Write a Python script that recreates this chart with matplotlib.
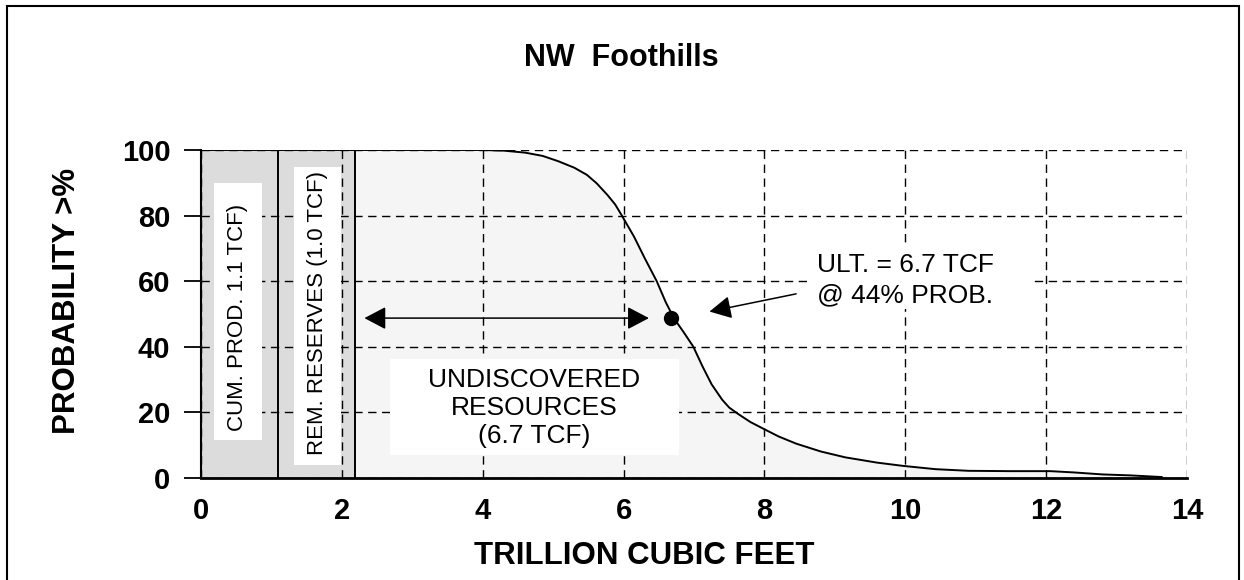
import matplotlib
matplotlib.use("Agg")
import matplotlib.pyplot as plt
from matplotlib.patches import Rectangle

# probability curve
x_tcf = [0.0, 2.18, 4.0, 4.3, 4.6, 4.85, 5.07, 5.3, 5.48, 5.62, 5.77, 5.88, 5.97,
         6.15, 6.3, 6.47, 6.6, 6.72, 6.85, 6.99, 7.12, 7.25, 7.4, 7.5, 7.63,
         7.8, 7.98, 8.2, 8.45, 8.8, 9.15, 9.6, 9.97, 10.43, 10.9, 11.5, 12.06,
         12.4, 12.8, 13.2, 13.64]
prob = [100, 100, 100, 99.8, 99.2, 98.2, 96.6, 94.6, 92.4, 89.8, 86.3, 83.4, 80.2,
        73.5, 67.0, 60.0, 53.5, 48.5, 44.5, 40.0, 34.0, 28.5, 23.8, 21.4, 19.4,
        17.0, 15.0, 12.6, 10.4, 8.0, 6.2, 4.6, 3.6, 2.6, 2.1, 2.0, 2.0,
        1.6, 1.0, 0.7, 0.2]

band_edges = [0, 1.1, 2.18]   # cum. production | remaining reserves
band_labels = ["CUM. PROD. 1.1 TCF)", "REM. RESERVES (1.0 TCF)"]
ult_x, ult_prob = 6.68, 48.7
undisc_span = (2.32, 6.36)

xticks = [0, 2, 4, 6, 8, 10, 12, 14]
yticks = [0, 20, 40, 60, 80, 100]

plt.rcParams['font.family'] = ['Liberation Sans', 'DejaVu Sans']

fig = plt.figure(figsize=(12.44, 5.8), dpi=100)
ax = fig.add_axes([201/1244, 1-477.7/580, 986/1244, 327.7/580])
ax.set_xlim(0, 14)
ax.set_ylim(0, 100)

# fills
ax.fill_between(x_tcf, prob, 0, color='#f5f5f5', zorder=1, lw=0)
ax.axvspan(band_edges[0], band_edges[2], color='#dcdcdc', zorder=1.5, lw=0)
for e in band_edges:
    ax.axvline(e, color='black', lw=1.4, zorder=3)

ax.grid(True, color='black', lw=1.0, ls=(0, (6, 4)), zorder=2)
ax.set_axisbelow(False)
for gl in ax.get_xgridlines() + ax.get_ygridlines():
    gl.set_zorder(2)

ax.plot(x_tcf, prob, color='black', lw=1.4, zorder=3)
ax.plot([ult_x], [ult_prob], 'o', color='black', ms=10, zorder=4)

# white label boxes
for (bx, by, bw, bh) in [(0.18, 11.5, 0.69, 78.4), (1.32, 3.9, 0.67, 91.0),
                         (2.68, 6.8, 4.1, 29.4), (8.6, 51.5, 3.2, 20.0)]:
    ax.add_patch(Rectangle((bx, by), bw, bh, facecolor='white', edgecolor='none', zorder=4))

ax.text(0.525, 48.9, band_labels[0], rotation=90, ha='center', va='center',
        fontsize=16, zorder=5)
ax.text(1.65, 50.4, band_labels[1], rotation=90, ha='center', va='center',
        fontsize=16, zorder=5)
ax.text(4.73, 21.3, "UNDISCOVERED\nRESOURCES\n(6.7 TCF)", ha='center', va='center',
        fontsize=19, zorder=5)
ax.text(10.0, 60.3, "ULT. = 6.7 TCF\n@ 44% PROB.", ha='center', va='center',
        fontsize=19, linespacing=1.3, zorder=5)

ax.annotate('', xy=(undisc_span[1], ult_prob), xytext=(undisc_span[0], ult_prob),
            arrowprops=dict(arrowstyle='<|-|>,head_length=0.95,head_width=0.5',
                            color='black', lw=1.1, mutation_scale=14,
                            shrinkA=0, shrinkB=0), zorder=5)
ax.annotate('', xy=(7.22, 50.7), xytext=(8.45, 56.1),
            arrowprops=dict(arrowstyle='-|>,head_length=0.95,head_width=0.5',
                            color='black', lw=1.1, mutation_scale=14,
                            shrinkA=0, shrinkB=0), zorder=5)

# axes styling
for s in ['top', 'right']:
    ax.spines[s].set_visible(False)
ax.spines['left'].set_linewidth(1.5)
ax.spines['bottom'].set_linewidth(2)
for s in ['left', 'bottom']:
    ax.spines[s].set_zorder(6)

ax.set_xticks(xticks)
ax.set_yticks(yticks)
ax.tick_params(axis='x', length=0, pad=14, labelsize=21)
ax.tick_params(axis='y', length=12, width=1.3, direction='out', pad=10, labelsize=21)
for lab in ax.get_xticklabels() + ax.get_yticklabels():
    lab.set_fontweight('bold')

ax.set_xlabel("TRILLION CUBIC FEET", fontsize=22.5, fontweight='bold')
ax.xaxis.set_label_coords(0.45, -0.239)
ax.xaxis.label.set_verticalalignment('center')
ax.set_ylabel("PROBABILITY >%", fontsize=22.5, fontweight='bold')
ax.yaxis.set_label_coords(-0.136, 0.539)
ax.yaxis.label.set_verticalalignment('center')

fig.text(621.7/1244, 1-58/580, "NW  Foothills", ha='center', va='center',
         fontsize=22, fontweight='bold')

fig.add_artist(Rectangle((7/1244, -0.1), (1239-7)/1244, 1-6/580+0.1,
                         transform=fig.transFigure, fill=False, lw=1.5,
                         edgecolor='black'))

fig.savefig("out.png", dpi=100)
